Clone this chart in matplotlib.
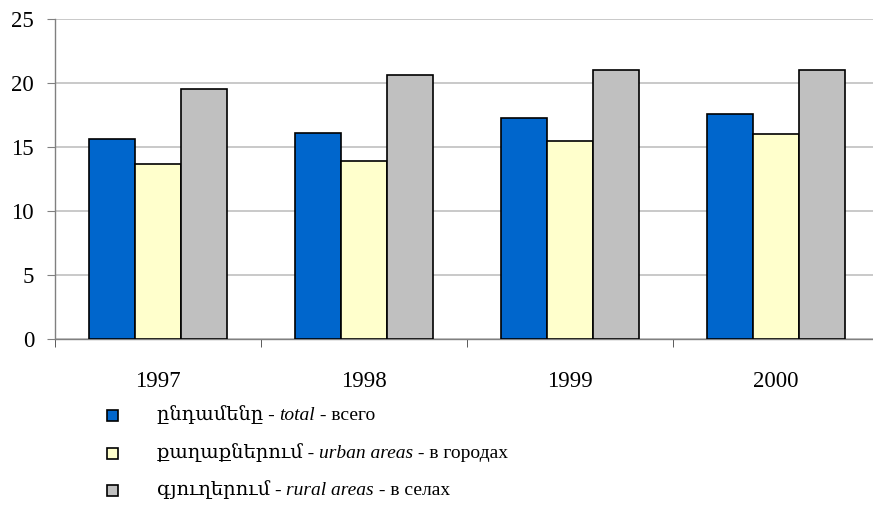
import matplotlib
matplotlib.use("Agg")
import matplotlib.pyplot as plt
from matplotlib.patches import Rectangle
import numpy as np

years = ["1997", "1998", "1999", "2000"]
total = [15.6, 16.1, 17.3, 17.6]
urban = [13.7, 13.9, 15.5, 16.0]
rural = [19.5, 20.6, 21.0, 21.0]

legend_arm = ["ընդամենը", "քաղաքներում", "գյուղերում"]
legend_en = ["total", "urban areas", "rural areas"]
legend_ru = ["всего", "в городах", "в селах"]
colors = ["#0066CC", "#FFFFCC", "#C0C0C0"]

W, H = 873, 507
fig = plt.figure(figsize=(W / 100, H / 100), dpi=100)
FAM = ["Liberation Serif", "DejaVu Serif"]
plt.rcParams["font.family"] = FAM

ax = fig.add_axes([55 / W, 168 / H, 824 / W, 320 / H])
x = np.arange(len(years))
bw = 0.223
for i, (vals, c) in enumerate(zip([total, urban, rural], colors)):
    ax.bar(x + (i - 1) * bw, vals, width=bw, color=c, edgecolor="black",
           linewidth=1.2, zorder=3)

ax.set_xlim(-0.5, 3.5)
ax.set_ylim(0, 25)
ax.set_yticks([0, 5, 10, 15, 20, 25])
ax.yaxis.grid(True, color="#C0C0C0", linewidth=1.2, zorder=0)
ax.set_axisbelow(True)
for s in ["top", "right"]:
    ax.spines[s].set_visible(False)
for s in ["left", "bottom"]:
    ax.spines[s].set_color("#808080")
    ax.spines[s].set_linewidth(1.0)
ax.tick_params(axis="y", direction="out", length=6, color="#808080",
               labelsize=16.5, pad=9)
ax.set_xticks(x)
ax.set_xticklabels(years, fontsize=16.5)
ax.tick_params(axis="x", which="major", length=0, pad=23)
ax.set_xticks(np.arange(-0.5, 4.0, 1.0), minor=True)
ax.tick_params(axis="x", which="minor", direction="out", length=6,
               color="#404040")

rows_y = [415, 453, 490]
FS = 14
for yy, c, a, e, r in zip(rows_y, colors, legend_arm, legend_en, legend_ru):
    sz = 11
    fig.patches.append(Rectangle(((112 - sz / 2) / W, 1 - (yy + sz / 2) / H),
                                 sz / W, sz / H, transform=fig.transFigure,
                                 facecolor=c, edgecolor="black", linewidth=1.2))
    t1 = fig.text(157 / W, 1 - yy / H, a + " - ", fontsize=FS,
                  va="center", ha="left", family=FAM)
    t2 = ax.annotate(e, xy=(1, 0), xycoords=t1, va="bottom", ha="left",
                     fontsize=FS, style="italic", family=FAM,
                     annotation_clip=False)
    t3 = ax.annotate(" - " + r, xy=(1, 0), xycoords=t2, va="bottom",
                     ha="left", fontsize=FS, family=FAM,
                     annotation_clip=False)

fig.savefig("out.png", dpi=100)
